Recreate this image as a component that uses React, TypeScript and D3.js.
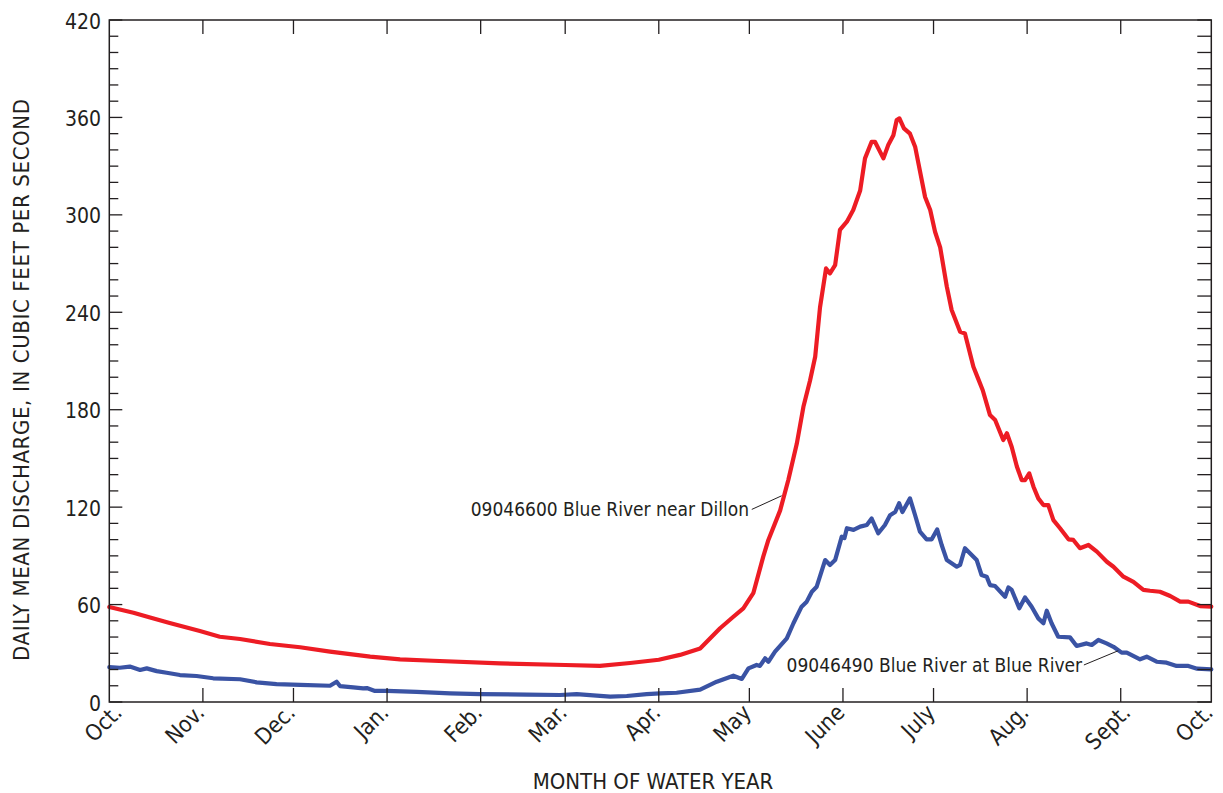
import React from 'react';
import * as d3 from 'd3';

const monthLabels = ['Oct.', 'Nov.', 'Dec.', 'Jan.', 'Feb.', 'Mar.', 'Apr.', 'May', 'June', 'July', 'Aug.', 'Sept.', 'Oct.'];
const monthStartDays = [0, 31, 61, 92, 123, 151, 182, 212, 243, 273, 304, 335, 365];
const yMajorTicks = [0, 60, 120, 180, 240, 300, 360, 420];
const yMinorTicks = d3.range(0, 421, 10);

const dillonDays = [0, 8, 13.5, 20, 30, 36.6, 43.3, 53.2, 63.2, 73.1, 86.4, 96.3, 107.2, 129.4, 151, 162.5, 172.5, 182, 189, 195.7, 202.3, 206.7, 210, 213.3, 216.6, 218.3, 222.2, 224.9, 227.7, 229.9, 232.1, 233.8, 235.4, 237.4, 238.7, 240.4, 242, 244.3, 246.4, 248.7, 250.3, 252.5, 253.6, 256.4, 258, 259.7, 260.8, 261.7, 263.2, 265.2, 266.9, 268, 270.2, 271.9, 273.5, 275.2, 277.4, 279, 281.8, 283.4, 286.2, 287.8, 289.3, 291.7, 293.4, 296.1, 297.3, 298.9, 300.6, 302.2, 303.3, 304.7, 306.1, 307.7, 309.4, 311, 312.7, 314.9, 317.7, 319.3, 321.5, 324.3, 327.1, 330.4, 332.6, 335.9, 339.2, 342.5, 344.7, 348, 351.4, 354.7, 357.4, 361.3, 365];
const dillonFlow = [58.5, 55, 52, 48.6, 43.7, 40.2, 38.8, 35.7, 33.7, 31, 27.9, 26.3, 25.4, 23.8, 22.8, 22.3, 24, 26, 29, 33, 45.4, 52.5, 57.7, 67, 89.5, 99.8, 118, 136.7, 159, 181.8, 198, 212.6, 243, 267, 264, 269, 290.7, 295.8, 303, 315, 334.8, 345, 345, 334.8, 343, 349, 358.4, 359.4, 353.3, 350, 342, 331.7, 311, 303, 289.6, 280, 255.8, 241.4, 228, 227, 206.5, 199, 192, 176.7, 173.7, 161.3, 165.5, 157, 145, 136.7, 136.7, 140.8, 132.6, 125.4, 121.3, 121.3, 112, 107, 100.2, 99.8, 94.7, 96.7, 92.6, 86.4, 83.3, 77.2, 74, 69, 68.5, 67.9, 65.3, 61.8, 61.8, 59.1, 58.7];

const blueRiverDays = [0, 3.5, 6.8, 10.2, 12.4, 15.7, 19, 23.4, 28.9, 34.4, 43.3, 48.8, 55.4, 63.2, 73.1, 75.3, 76.4, 80.8, 84.1, 85.3, 88, 91.9, 101.8, 112.9, 122.8, 138.3, 149.3, 154.8, 160.3, 165.9, 171.4, 178, 182.4, 187.9, 195.7, 201.2, 206.7, 209.5, 211.7, 214.4, 215.5, 217.2, 218.3, 220.5, 224.4, 226.6, 229.3, 231, 232.7, 234.3, 237.1, 238.7, 240.4, 242.6, 243.5, 244.3, 246.5, 248.7, 250.9, 252.5, 254.7, 256.9, 258.6, 260.3, 261.6, 262.7, 265.2, 266.9, 268.5, 270.7, 272.4, 274.2, 275.7, 277.4, 280.7, 281.8, 283.4, 287.3, 288.9, 290.6, 291.7, 293.4, 296.7, 297.8, 298.9, 301.4, 303.3, 305.5, 307.7, 309.4, 310.5, 312.1, 314.3, 318.2, 320.4, 323.7, 325.4, 327.6, 330.3, 332.6, 335.3, 337, 341.4, 343.6, 346.9, 350.2, 353.5, 357.4, 360.3, 365];
const blueRiverFlow = [21.5, 21.1, 21.8, 19.7, 20.7, 19, 18, 16.6, 16, 14.6, 14, 12.1, 11, 10.5, 10, 12.5, 9.8, 9, 8.4, 8.6, 6.8, 6.8, 6.2, 5.3, 4.9, 4.5, 4.3, 4.9, 4.1, 3.3, 3.7, 4.9, 5.3, 5.7, 7.6, 12.5, 16.2, 14.2, 20.7, 22.8, 22.2, 26.9, 24.8, 31, 39.2, 48.5, 58.7, 61.8, 67.9, 71, 87.4, 84.4, 87.4, 101.8, 101, 107, 106, 108, 109, 113, 103.9, 109, 115, 117, 122.4, 117, 125.4, 115, 104.9, 100.2, 100.2, 106.3, 96.7, 87.4, 83.3, 84.4, 94.7, 87.4, 78.2, 77.2, 72, 71.4, 64.8, 70.6, 69, 57.7, 64.4, 58.7, 51.5, 48.5, 56.2, 48.5, 40.2, 39.8, 34.5, 36.1, 35.1, 38.2, 36.1, 34, 30.4, 30.4, 26.3, 27.9, 24.8, 24.2, 22.2, 22.2, 20.5, 20.1];

const dillonLabel = '09046600 Blue River near Dillon';
const blueRiverLabel = '09046490 Blue River at Blue River';

const W = 1223;
const H = 793;
const left = 109.3;
const right = 1211.3;
const top = 20;
const bottom = 702;

// small per-label horizontal nudges (layout only)
const monthLabelNudge: Record<number, number> = { 0: 11, 11: 8 };

const FONT = "'DejaVu Sans Condensed', 'DejaVu Sans', 'Liberation Sans Narrow', sans-serif";

export default function App() {
  const x = d3.scaleLinear().domain([0, 365]).range([left, right]);
  const y = d3.scaleLinear().domain([0, 420]).range([bottom, top]);

  const line = d3
    .line<[number, number]>()
    .x((d) => x(d[0]))
    .y((d) => y(d[1]))
    .curve(d3.curveLinear);

  const dillon = dillonDays.map((d, i) => [d, dillonFlow[i]] as [number, number]);
  const blue = blueRiverDays.map((d, i) => [d, blueRiverFlow[i]] as [number, number]);

  const axisColor = '#231f20';
  const textStyle = { fontFamily: FONT, fontStretch: 'condensed' as const, fill: '#231f20' };

  return (
    <svg width={W} height={H} style={{ position: 'absolute', left: 0, top: 0, background: '#fff' }}>
      {/* lines */}
      <path d={line(dillon) || ''} fill="none" stroke="#ed1c24" strokeWidth={4.2} strokeLinejoin="round" strokeLinecap="round" />
      <path d={line(blue) || ''} fill="none" stroke="#3a53a4" strokeWidth={4.2} strokeLinejoin="round" strokeLinecap="round" />

      {/* frame */}
      <rect x={left} y={top} width={right - left} height={bottom - top} fill="none" stroke={axisColor} strokeWidth={1.5} />

      {/* left ticks */}
      {yMinorTicks.map((t) => {
        const major = yMajorTicks.includes(t);
        return (
          <line key={'l' + t} x1={left} x2={left + (major ? 13 : 9)} y1={y(t)} y2={y(t)} stroke={axisColor} strokeWidth={1.3} />
        );
      })}
      {/* right ticks */}
      {yMinorTicks.map((t) => (
        <line key={'r' + t} x1={right} x2={right - 14} y1={y(t)} y2={y(t)} stroke={axisColor} strokeWidth={1.3} />
      ))}
      {/* y labels */}
      {yMajorTicks.map((t) => (
        <text key={'yl' + t} x={101} y={y(t) + 1.5} textAnchor="end" dominantBaseline="central" fontSize={21} style={textStyle}>
          {t}
        </text>
      ))}

      {/* month ticks */}
      {monthStartDays.slice(1, -1).map((d) => (
        <g key={'m' + d}>
          <line x1={x(d)} x2={x(d)} y1={bottom} y2={bottom - 14} stroke={axisColor} strokeWidth={1.3} />
          <line x1={x(d)} x2={x(d)} y1={top} y2={top + 14} stroke={axisColor} strokeWidth={1.3} />
        </g>
      ))}
      {monthLabels.map((m, i) => {
        const px = x(monthStartDays[i]) + 3 + (monthLabelNudge[i] || 0);
        const py = bottom + 12;
        return (
          <text key={'ml' + i} transform={`translate(${px},${py}) rotate(-45)`} textAnchor="end" fontSize={22.5} style={textStyle}>
            {m}
          </text>
        );
      })}

      {/* axis titles */}
      <text x={653} y={789} textAnchor="middle" fontSize={22} style={textStyle}>
        MONTH OF WATER YEAR
      </text>
      <text
        transform={`translate(29,380) rotate(-90)`}
        textAnchor="middle"
        fontSize={22}
        textLength={562}
        lengthAdjust="spacing"
        style={textStyle}
      >
        DAILY MEAN DISCHARGE, IN CUBIC FEET PER SECOND
      </text>

      {/* annotations */}
      <text x={x(211.9)} y={y(118.8)} dominantBaseline="central" textAnchor="end" fontSize={19} style={textStyle}>
        {dillonLabel}
      </text>
      <line x1={x(212.8)} y1={y(118.6)} x2={x(222.7)} y2={y(127)} stroke="#231f20" strokeWidth={1} />
      <text x={x(322.2)} y={y(22.8)} dominantBaseline="central" textAnchor="end" fontSize={19} style={textStyle}>
        {blueRiverLabel}
      </text>
      <line x1={x(322.8)} y1={y(22.8)} x2={x(334.2)} y2={y(31.6)} stroke="#231f20" strokeWidth={1} />
    </svg>
  );
}
